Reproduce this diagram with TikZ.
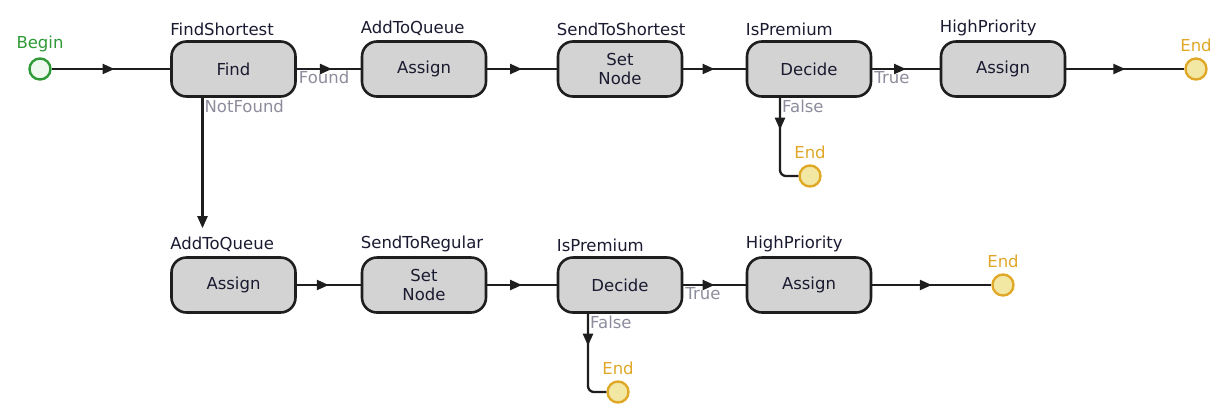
\documentclass[tikz,border=0pt]{standalone}
\usepackage{fontspec}
\setmainfont{DejaVu Sans}
\usetikzlibrary{arrows.meta,decorations.markings}
\definecolor{boxfill}{HTML}{D3D3D3}
\definecolor{boxline}{HTML}{1E1E1E}
\definecolor{startline}{HTML}{2E9A36}
\definecolor{startfill}{HTML}{EEF8EE}
\definecolor{endline}{HTML}{E0A828}
\definecolor{endfill}{HTML}{F2E8A4}
\definecolor{edgetext}{HTML}{8C8C9C}
\definecolor{titletext}{HTML}{1A1A30}
\begin{document}
\begin{tikzpicture}[x=1pt, y=-1pt, font=\fontsize{16.5}{19}\selectfont,
  task/.style={draw=boxline, fill=boxfill, line width=2.6pt, rounded corners=15pt,
    minimum width=124pt, minimum height=55pt, align=center, text=titletext, inner sep=2pt},
  title/.style={label={[anchor=south west, inner sep=0pt, yshift=4pt, text=titletext]north west:#1}},
  startnode/.style={circle, draw=startline, fill=startfill, line width=2.4pt, minimum size=21pt, inner sep=0pt,
    label={[text=startline, label distance=2pt]above:Begin}},
  endnode/.style={circle, draw=endline, fill=endfill, line width=2.4pt, minimum size=21pt, inner sep=0pt,
    label={[text=endline, label distance=2pt]above:End}},
  flow/.style={draw=boxline, line width=2.3pt},
  midarrow/.style={postaction={decorate, decoration={markings,
    mark=at position #1 with {\arrow{Triangle[length=12pt, width=10pt]}}}}},
  lbl/.style={text=edgetext, inner sep=1pt, anchor=north west}]
  \useasboundingbox (0,0) rectangle (1230,416);
  % top row
  \node[startnode] (begin) at (40,69) {};
  \node[task, title=FindShortest] (find) at (233.5,69) {Find};
  \node[task, title=AddToQueue] (aqtop) at (424,69) {Assign};
  \node[task, title=SendToShortest] (sendshort) at (620,69) {Set\\Node};
  \node[task, title=IsPremium] (dectop) at (809,69) {Decide};
  \node[task, title=HighPriority] (hptop) at (1003,69) {Assign};
  \node[endnode] (endtop) at (1196,69) {};
  \node[endnode] (endfalsetop) at (810,176) {};
  % bottom row
  \node[task, title=AddToQueue] (aqbot) at (233.5,285) {Assign};
  \node[task, title=SendToRegular] (sendreg) at (424,285) {Set\\Node};
  \node[task, title=IsPremium] (decbot) at (620,285) {Decide};
  \node[task, title=HighPriority] (hpbot) at (809,285) {Assign};
  \node[endnode] (endbot) at (1003,285) {};
  \node[endnode] (endfalsebot) at (618,392) {};
  % connectors
  \draw[flow, midarrow=0.53] (begin) -- (find);
  \draw[flow, midarrow=0.55] (find) -- node[lbl, pos=0] {Found} (aqtop);
  \draw[flow, midarrow=0.5] (aqtop) -- (sendshort);
  \draw[flow, midarrow=0.5] (sendshort) -- (dectop);
  \draw[flow, midarrow=0.5] (dectop) -- node[lbl, pos=0] {True} (hptop);
  \draw[flow, midarrow=0.5] (hptop) -- (endtop);
  \draw[flow, rounded corners=6pt, midarrow=0.34] ([xshift=-29pt]dectop.south)
    node[lbl] {False} |- (endfalsetop);
  \draw[flow, -{Triangle[length=12pt, width=10pt]}] ([xshift=-31pt]find.south)
    node[lbl] {NotFound} -- ([xshift=-31pt, yshift=28pt]aqbot.north);
  \draw[flow, midarrow=0.5] (aqbot) -- (sendreg);
  \draw[flow, midarrow=0.5] (sendreg) -- (decbot);
  \draw[flow, midarrow=0.5] (decbot) -- node[lbl, pos=0] {True} (hpbot);
  \draw[flow, midarrow=0.5] (hpbot) -- (endbot);
  \draw[flow, rounded corners=6pt, midarrow=0.34] ([xshift=-32pt]decbot.south)
    node[lbl] {False} |- (endfalsebot);
\end{tikzpicture}
\end{document}
